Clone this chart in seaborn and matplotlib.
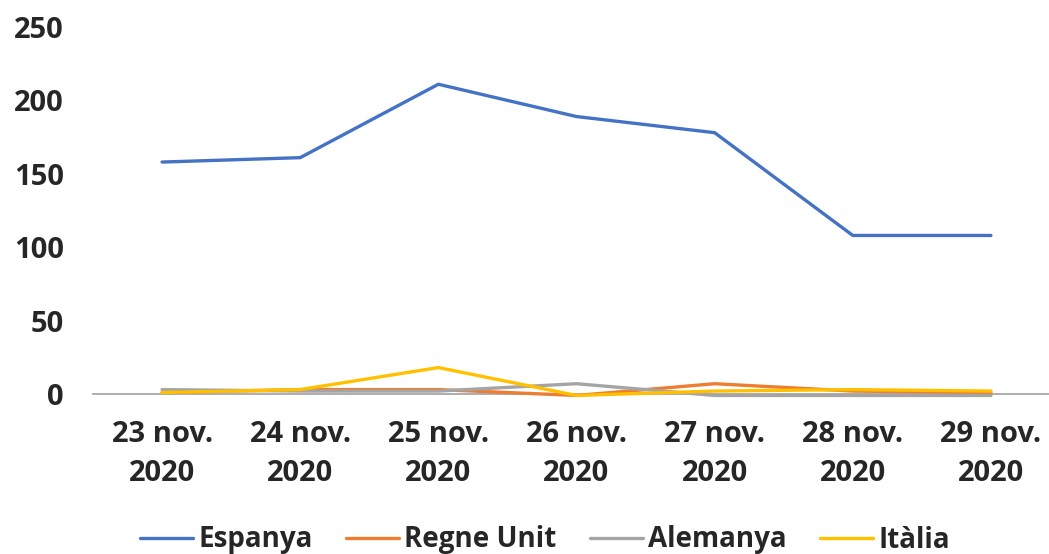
import pandas as pd
import matplotlib.pyplot as plt
import seaborn as sns

dates = ["23 nov.\n2020", "24 nov.\n2020", "25 nov.\n2020", "26 nov.\n2020",
         "27 nov.\n2020", "28 nov.\n2020", "29 nov.\n2020"]
espanya = [158, 161, 211, 189, 178, 108, 108]
regne_unit = [1, 3, 3, -1, 7, 2, 1]
alemanya = [3, 2, 2, 7, -1, -1, -1]
italia = [1, 3, 18, -1, 2, 3, 2]

series = {"Espanya": espanya, "Regne Unit": regne_unit,
          "Alemanya": alemanya, "Itàlia": italia}
colors = ["#4472C4", "#ED7D31", "#A5A5A5", "#FFC000"]

rows = []
for name, vals in series.items():
    for i, v in enumerate(vals):
        rows.append({"pos": i, "pais": name, "valor": v})
df = pd.DataFrame(rows)

sns.set_style("white")
plt.rcParams["font.family"] = ["Open Sans", "DejaVu Sans"]
plt.rcParams["font.weight"] = "bold"

fig = plt.figure(figsize=(10.49, 5.54), dpi=100)
ax = fig.add_axes([93 / 1049, 1 - 394 / 554, (1060 - 93) / 1049, (394 - 27) / 554])

sns.lineplot(data=df, x="pos", y="valor", hue="pais", palette=colors,
             linewidth=2.4, ax=ax, clip_on=False)

ax.set_xlim(-0.5, 6.5)
ax.set_ylim(0, 250)
ax.set_yticks(range(0, 251, 50))
ax.set_xticks(range(len(dates)))
ax.set_xticklabels(dates, fontsize=21, fontweight="bold")
for lab in ax.get_xticklabels():
    lab.set_linespacing(1.45)
ax.tick_params(axis="y", labelsize=21, length=0, pad=21)
ax.tick_params(axis="x", length=0, pad=19)
for lab in ax.get_yticklabels():
    lab.set_fontweight("bold")
ax.set_xlabel("")
ax.set_ylabel("")
for s in ["top", "right", "left"]:
    ax.spines[s].set_visible(False)
ax.spines["bottom"].set_color("#A0A0A0")
ax.spines["bottom"].set_linewidth(1.2)
ax.spines["bottom"].set_zorder(0)

leg = ax.legend(loc="center", bbox_to_anchor=(545 / 1049, 1 - 540 / 554),
                bbox_transform=fig.transFigure, ncol=4, frameon=False,
                fontsize=20, handlelength=1.9, handletextpad=0.2,
                columnspacing=1.2)
for t in leg.get_texts():
    t.set_fontweight("bold")

fig.savefig("out.png", dpi=100)
